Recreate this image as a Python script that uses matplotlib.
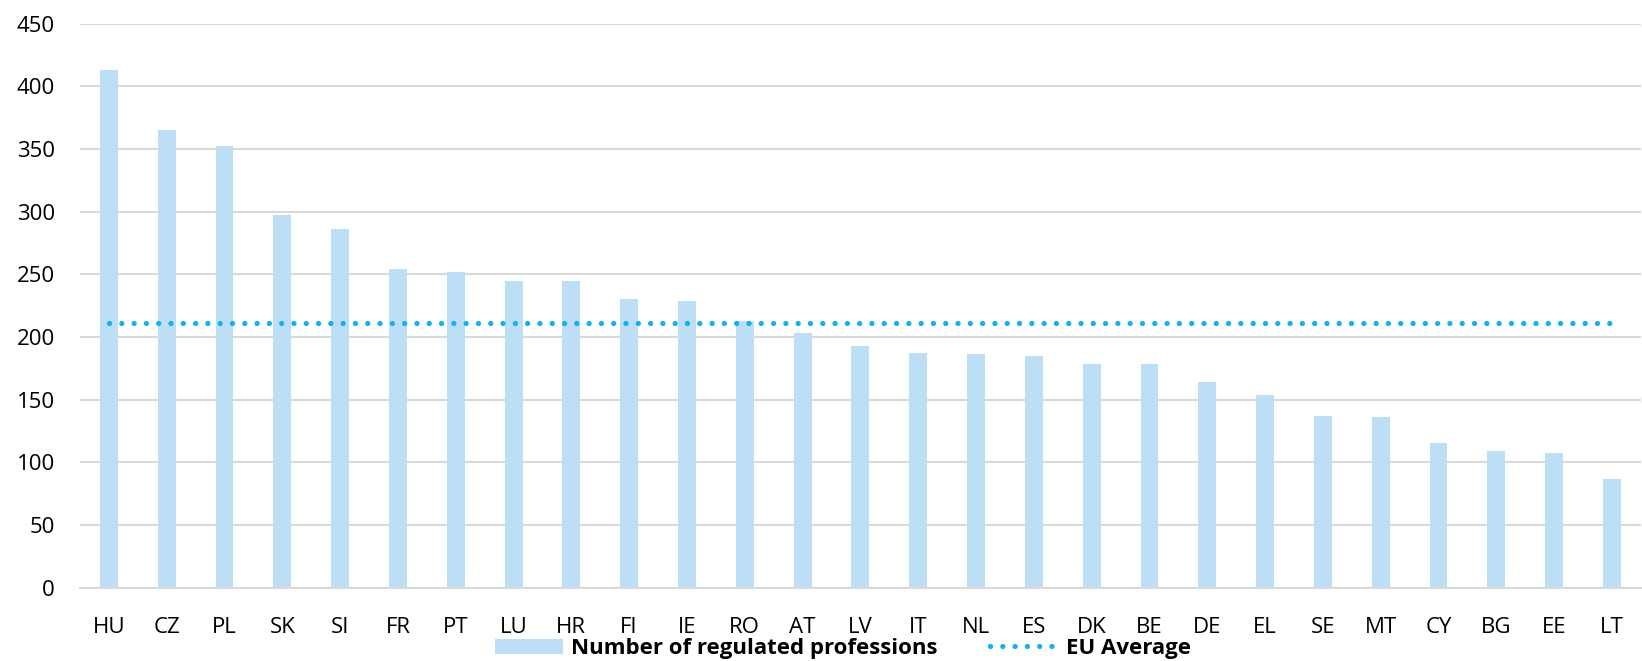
import numpy as np
import matplotlib
matplotlib.use("Agg")
import matplotlib.pyplot as plt
from matplotlib.lines import Line2D
from matplotlib.patches import Patch

plt.rcParams['font.family'] = ['Open Sans', 'DejaVu Sans']

countries = ["HU", "CZ", "PL", "SK", "SI", "FR", "PT", "LU", "HR", "FI", "IE", "RO", "AT", "LV",
             "IT", "NL", "ES", "DK", "BE", "DE", "EL", "SE", "MT", "CY", "BG", "EE", "LT"]
professions = [413, 365, 352, 297, 286, 254, 252, 245, 245, 230, 229, 213, 203, 193,
               187, 186, 185, 178, 178, 164, 154, 137, 136, 115, 109, 107, 87]
eu_average = 211

bar_color = '#BDDFF5'
avg_color = '#17B0EE'
dot_style = (0, (0.01, 2.32))

fig = plt.figure(figsize=(16.42, 6.61), dpi=100)
ax = fig.add_axes([0.0487, 0.111, 0.9506, 0.8534])

x = np.arange(len(countries))
ax.bar(x, professions, width=0.31, color=bar_color, zorder=2)
ax.plot([x[0], x[-1]], [eu_average, eu_average], color=avg_color, lw=3.8,
        linestyle=dot_style, dash_capstyle='round', zorder=3)

ax.set_xlim(-0.5, len(countries) - 0.5)
ax.set_ylim(0, 450)
ax.set_yticks(np.arange(0, 451, 50))
ax.set_xticks(x)
ax.set_xticklabels(countries)
ax.yaxis.grid(True, color='#D9D9D9', linewidth=1.5, zorder=0)
ax.set_axisbelow(True)
for side in ['top', 'right', 'left']:
    ax.spines[side].set_visible(False)
ax.spines['bottom'].set_color('#D9D9D9')
ax.spines['bottom'].set_linewidth(1.5)
ax.tick_params(axis='both', length=0, labelsize=16, colors='black')
ax.tick_params(axis='x', pad=21)
ax.tick_params(axis='y', pad=18)

handles = [Patch(facecolor=bar_color, edgecolor='none'),
           Line2D([0], [0], color=avg_color, lw=3.8, linestyle=dot_style,
                  dash_capstyle='round')]
fig.legend(handles, ["Number of regulated professions", "EU Average"],
           loc='center', bbox_to_anchor=(0.5134, 0.019), ncol=2, frameon=False,
           prop={'weight': 'bold', 'size': 16}, handlelength=3.06, handleheight=0.68,
           handletextpad=0.36, columnspacing=2.4, borderpad=0)

fig.savefig("out.png", dpi=100)
